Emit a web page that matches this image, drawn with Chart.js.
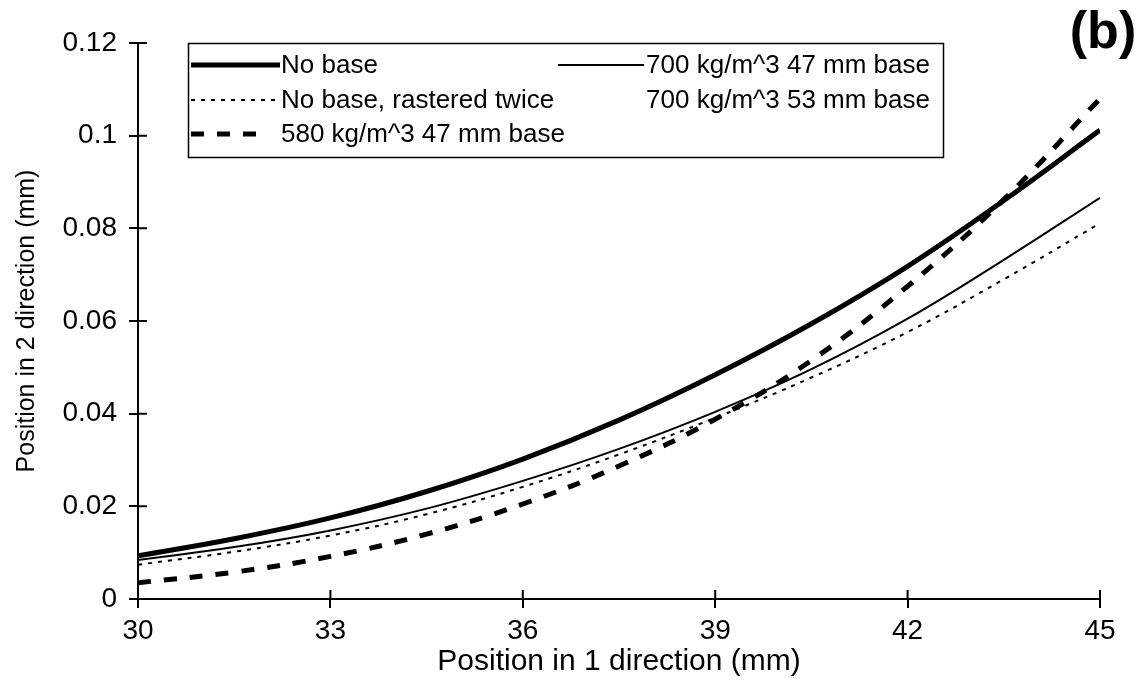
<!DOCTYPE html>
<html>
<head>
<meta charset="utf-8">
<script src="https://cdn.jsdelivr.net/npm/chart.js@4.4.1/dist/chart.umd.min.js"></script>
<style>
  html, body { margin: 0; padding: 0; background: #fff; }
  #wrap { width: 1143px; height: 688px; }
</style>
</head>
<body>
<div id="wrap"><canvas id="curveChart"></canvas></div>
<script>
// positions along the 1 direction (mm)
var positions = [30, 31.5, 33, 34.5, 36, 37.5, 39, 40.5, 42, 43.5, 45];

// position in 2 direction (mm)
var noBase        = [0.0093, 0.0130, 0.0175, 0.0232, 0.0302, 0.0386, 0.0484, 0.0594, 0.0718, 0.0860, 0.1012];
var noBaseTwice   = [0.0074, 0.0102, 0.0137, 0.0183, 0.0242, 0.0312, 0.0391, 0.0478, 0.0576, 0.0690, 0.0811];
var base580mm47   = [0.0035, 0.0058, 0.0092, 0.0140, 0.0205, 0.0287, 0.0388, 0.0515, 0.0675, 0.0862, 0.1080];
var base700mm47   = [0.0084, 0.0112, 0.0148, 0.0195, 0.0255, 0.0324, 0.0404, 0.0496, 0.0605, 0.0732, 0.0866];
var base700mm53   = [];

var xTicks = [30, 33, 36, 39, 42, 45];
var yTicks = [0, 0.02, 0.04, 0.06, 0.08, 0.1, 0.12];

var FONT = "'Liberation Sans', Arial, Helvetica, sans-serif";

function pts(vals) {
    return vals.map(function (v, i) { return { x: positions[i], y: v }; });
}

function makeSet(label, vals, width, dash) {
    return {
        label: label,
        data: pts(vals),
        borderColor: '#000',
        backgroundColor: '#000',
        borderWidth: width,
        borderDash: dash,
        pointRadius: 0,
        fill: false,
        tension: 0.4
    };
}

var datasets = [
    makeSet('No base', noBase, 5, []),
    makeSet('No base, rastered twice', noBaseTwice, 2, [4, 6]),
    makeSet('580 kg/m^3 47 mm base', base580mm47, 5, [13, 13]),
    makeSet('700 kg/m^3 47 mm base', base700mm47, 2, []),
    makeSet('700 kg/m^3 53 mm base', base700mm53, 0, [])
];

// ticks crossing the axis lines (outer half drawn by Chart.js)
var crossTicks = {
    id: 'crossTicks',
    afterDraw: function (chart) {
        var ctx = chart.ctx, a = chart.chartArea;
        var xs = chart.scales.x, ys = chart.scales.y;
        ctx.save();
        ctx.strokeStyle = '#000';
        ctx.lineWidth = 2;
        ctx.beginPath();
        xTicks.forEach(function (t) {
            var px = xs.getPixelForValue(t);
            ctx.moveTo(px, a.bottom);
            ctx.lineTo(px, a.bottom - 9);
        });
        yTicks.forEach(function (t) {
            var py = ys.getPixelForValue(t);
            ctx.moveTo(a.left, py);
            ctx.lineTo(a.left + 9, py);
        });
        ctx.stroke();
        ctx.restore();
    }
};

// boxed legend in two columns, plus the panel letter
var boxLegend = {
    id: 'boxLegend',
    afterDraw: function (chart) {
        var ctx = chart.ctx;
        var sets = chart.data.datasets;
        ctx.save();
        ctx.fillStyle = '#fff';
        ctx.fillRect(188, 43, 755, 114);
        ctx.strokeStyle = '#000';
        ctx.lineWidth = 1.5;
        ctx.strokeRect(188.5, 43.5, 755, 114);

        ctx.font = '26px ' + FONT;
        ctx.textBaseline = 'middle';
        ctx.textAlign = 'left';
        var rows = [65, 100, 134];
        var col2x = 930 - ctx.measureText(sets[3].label).width;

        var items = [
            { ds: sets[0], x0: 191, x1: 280, tx: 281, y: rows[0] },
            { ds: sets[1], x0: 191, x1: 280, tx: 281, y: rows[1] },
            { ds: sets[2], x0: 191, x1: 266, tx: 281, y: rows[2] },
            { ds: sets[3], x0: col2x - 88, x1: col2x - 2, tx: col2x, y: rows[0] },
            { ds: sets[4], x0: col2x - 88, x1: col2x - 2, tx: col2x, y: rows[1] }
        ];
        items.forEach(function (it) {
            if (it.ds.borderWidth > 0) {
                ctx.beginPath();
                ctx.lineWidth = it.ds.borderWidth;
                ctx.setLineDash(it.ds.borderDash);
                ctx.moveTo(it.x0, it.y);
                ctx.lineTo(it.x1, it.y);
                ctx.stroke();
                ctx.setLineDash([]);
            }
            ctx.fillStyle = '#000';
            ctx.fillText(it.ds.label, it.tx, it.y + 1);
        });

        ctx.font = 'bold 52px ' + FONT;
        ctx.textAlign = 'center';
        ctx.fillText('(b)', 1103, 34);
        ctx.restore();
    }
};

var ctx = document.getElementById('curveChart').getContext('2d');
var curveChart = new Chart(ctx, {
    type: 'line',
    data: { datasets: datasets },
    options: {
        responsive: true,
        maintainAspectRatio: false,
        animation: false,
        layout: { padding: { top: 43, right: 43, left: 0, bottom: 0 } },
        plugins: {
            legend: { display: false },
            tooltip: { enabled: false }
        },
        scales: {
            x: {
                type: 'linear',
                min: 30,
                max: 45,
                afterBuildTicks: function (s) { s.ticks = xTicks.map(function (v) { return { value: v }; }); },
                afterFit: function (s) { s.height = 89; },
                ticks: { color: '#000', font: { family: FONT, size: 28 }, padding: 6, maxRotation: 0 },
                grid: { drawOnChartArea: false, drawTicks: true, tickLength: 9, color: '#000', lineWidth: 2 },
                border: { display: true, color: '#000', width: 2 },
                title: {
                    display: true,
                    text: 'Position in 1 direction (mm)',
                    color: '#000',
                    font: { family: FONT, size: 30 },
                    padding: { top: 8, bottom: 8 }
                }
            },
            y: {
                min: 0,
                max: 0.12,
                afterBuildTicks: function (s) { s.ticks = yTicks.map(function (v) { return { value: v }; }); },
                afterFit: function (s) { s.width = 138; },
                ticks: {
                    color: '#000',
                    font: { family: FONT, size: 28 },
                    padding: 12,
                    callback: function (v) { return String(parseFloat(v.toFixed(2))); }
                },
                grid: { drawOnChartArea: false, drawTicks: true, tickLength: 9, color: '#000', lineWidth: 2 },
                border: { display: true, color: '#000', width: 2 },
                title: {
                    display: true,
                    text: 'Position in 2 direction (mm)',
                    color: '#000',
                    font: { family: FONT, size: 25 },
                    padding: { top: 12, bottom: 0 }
                }
            }
        }
    },
    plugins: [crossTicks, boxLegend]
});
</script>
</body>
</html>
